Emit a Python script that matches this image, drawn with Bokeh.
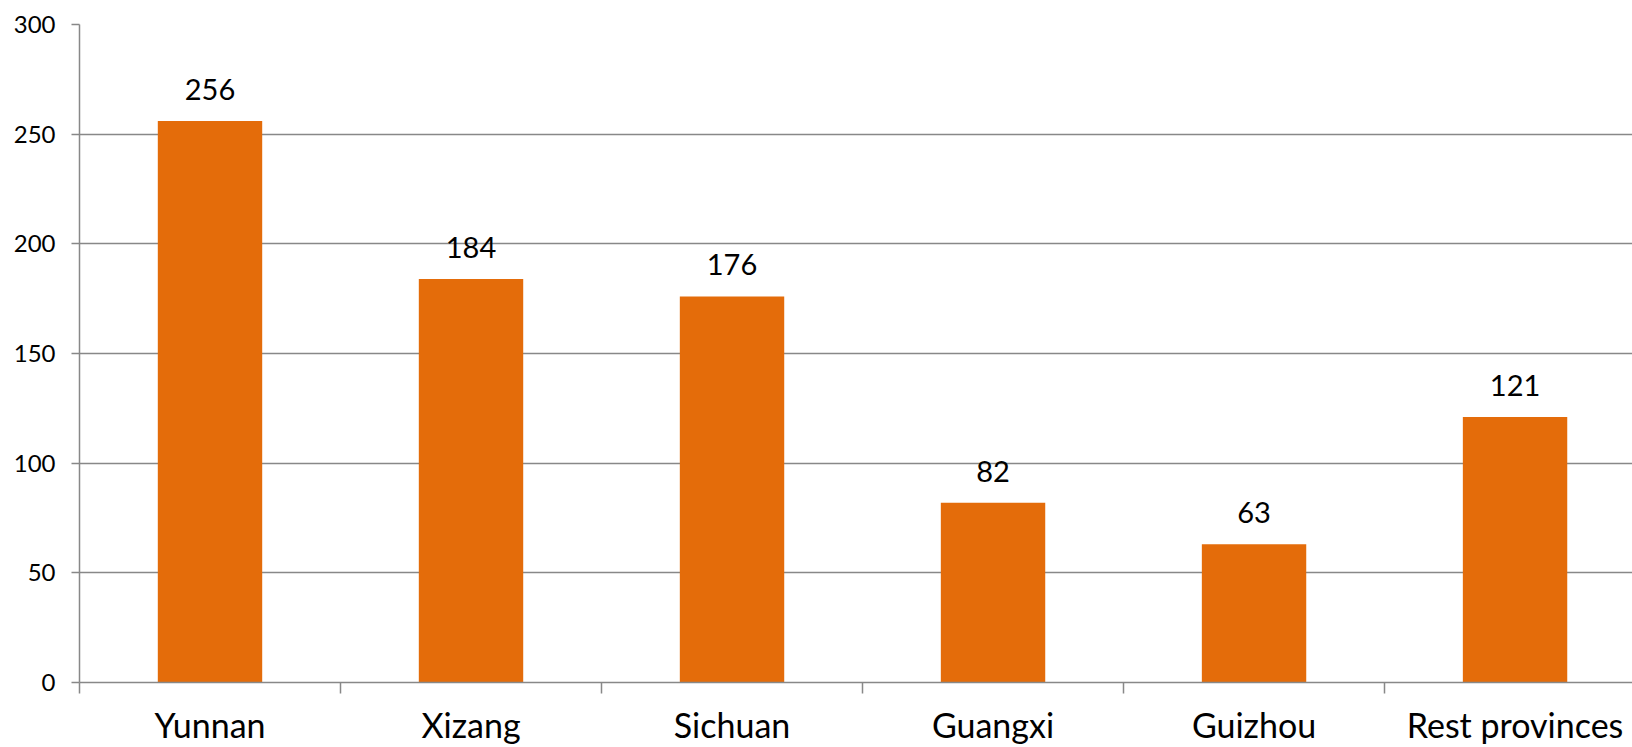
from bokeh.plotting import figure
from bokeh.models import Range1d, FixedTicker, LabelSet, ColumnDataSource
from bokeh.core.properties import value
from bokeh.embed import file_html
from bokeh.resources import INLINE

categories = ["Yunnan", "Xizang", "Sichuan", "Guangxi", "Guizhou", "Rest provinces"]
values = [256, 184, 176, 82, 63, 121]
y_ticks = [0, 50, 100, 150, 200, 250, 300]

xs = [i + 0.5 for i in range(len(categories))]
bounds = list(range(len(categories) + 1))
src = ColumnDataSource(dict(x=xs, top=values, label=[str(v) for v in values]))

FONT = "Lato"
GRAY = "#888888"

p = figure(width=1632, height=747, output_backend="svg", toolbar_location=None,
           x_range=Range1d(0, 5.95), y_range=Range1d(0, 300),
           min_border_left=79, min_border_right=0, min_border_top=24, min_border_bottom=65)
p.outline_line_color = None
p.background_fill_color = "white"
p.border_fill_color = "white"

p.vbar(x="x", top="top", width=0.40, bottom=0, source=src,
       fill_color="#E46C0A", line_color=None)

# y axis
p.yaxis.ticker = FixedTicker(ticks=y_ticks)
p.yaxis.major_tick_in = 0
p.yaxis.major_tick_out = 8
p.yaxis.minor_tick_line_color = None
p.yaxis.axis_line_color = GRAY
p.yaxis.axis_line_width = 1.5
p.yaxis.major_tick_line_color = GRAY
p.yaxis.major_tick_line_width = 1.5
p.yaxis.major_label_text_font = FONT
p.yaxis.major_label_text_font_size = "24px"
p.yaxis.major_label_text_color = "#000000"
p.yaxis.major_label_standoff = 16

# x axis: labels at category centres, tick marks at category boundaries
p.xaxis.ticker = FixedTicker(ticks=xs, minor_ticks=bounds)
p.xaxis.major_label_overrides = {x: c for x, c in zip(xs, categories)}
p.xaxis.major_tick_line_color = None
p.xaxis.major_tick_in = 0
p.xaxis.major_tick_out = 0
p.xaxis.minor_tick_in = 0
p.xaxis.minor_tick_out = 11
p.xaxis.minor_tick_line_color = GRAY
p.xaxis.minor_tick_line_width = 1.5
p.xaxis.axis_line_color = GRAY
p.xaxis.axis_line_width = 1.5
p.xaxis.major_label_text_font = FONT
p.xaxis.major_label_text_font_size = "34px"
p.xaxis.major_label_text_color = "#000000"
p.xaxis.major_label_standoff = 10

p.xgrid.grid_line_color = None
p.ygrid.ticker = FixedTicker(ticks=y_ticks)
p.ygrid.grid_line_color = GRAY
p.ygrid.grid_line_width = 1.5

vals = LabelSet(x="x", y="top", text="label", source=src, y_offset=21,
                text_align="center", text_baseline="alphabetic",
                text_font=value(FONT), text_font_size=value("29px"), text_color="#000000")
p.add_layout(vals)

open("out.html", "w").write(file_html(p, INLINE))
